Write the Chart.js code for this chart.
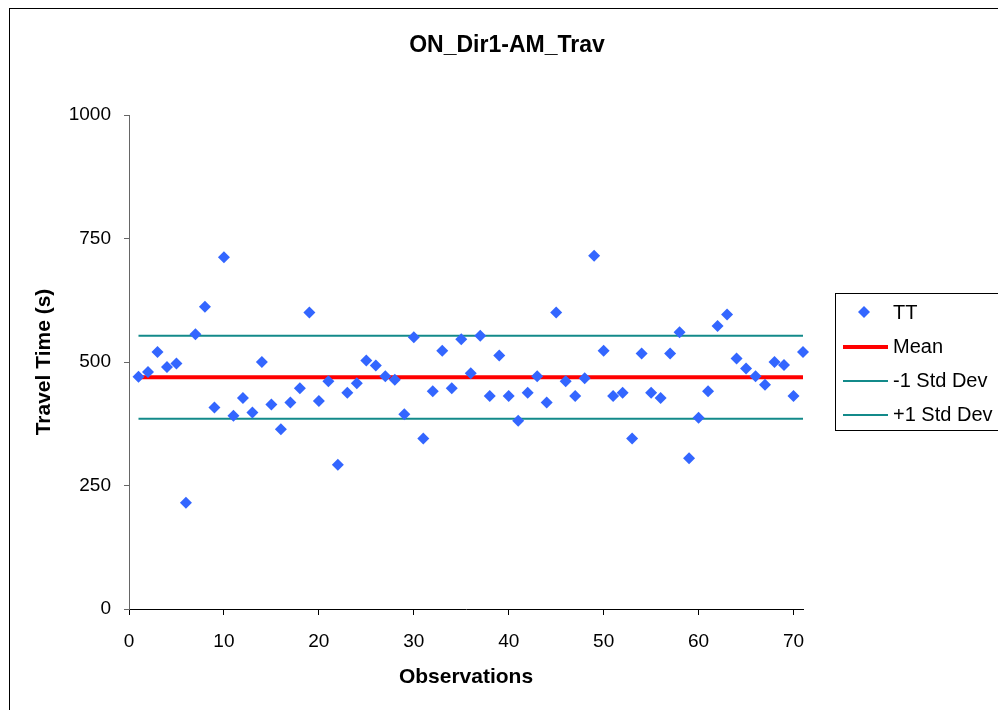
<!DOCTYPE html>
<html>
<head>
<meta charset="utf-8">
<title>ON_Dir1-AM_Trav</title>
<script src="https://cdn.jsdelivr.net/npm/chart.js@4.4.1/dist/chart.umd.min.js"></script>
<style>
  html, body { margin: 0; padding: 0; background: #fff; }
  #wrap { width: 998px; height: 710px; }
</style>
</head>
<body>
<div id="wrap"><canvas id="ttChart" width="998" height="710"></canvas></div>
<script>
// Observation numbers (x) and travel times in seconds (y)
const OBS = [
  1, 2, 3, 4, 5, 6, 7, 8, 9, 10,
  11, 12, 13, 14, 15, 16, 17, 18, 19, 20,
  21, 22, 23, 24, 25, 26, 27, 28, 29, 30,
  31, 32, 33, 34, 35, 36, 37, 38, 39, 40,
  41, 42, 43, 44, 45, 46, 47, 48, 49, 50,
  51, 52, 53, 54, 55, 56, 57, 58, 59, 60,
  61, 62, 63, 64, 65, 66, 67, 68, 69, 70, 71
];
const TT = [
  470, 480, 520, 490, 497, 215, 556, 612, 408, 712,
  391, 427, 398, 500, 414, 364, 418, 447, 600, 421,
  461, 292, 438, 457, 503, 493, 471, 464, 394, 550,
  345, 441, 523, 447, 546, 477, 553, 431, 513, 431,
  381, 438, 471, 418, 600, 461, 431, 467, 715, 523,
  431, 438, 345, 517, 438, 427, 517, 560, 305, 387,
  441, 573, 596, 507, 487, 471, 454, 500, 494, 431, 520
];

// summary lines
const MEAN = 469;
const STD_LOW = 385;
const STD_HIGH = 553;

// axis ticks
const X_TICKS = [0, 10, 20, 30, 40, 50, 60, 70];
const Y_TICKS = [0, 250, 500, 750, 1000];

const FONT = "'Liberation Sans', Arial, sans-serif";

function flatLine(value) {
  return [{ x: OBS[0], y: value }, { x: OBS[OBS.length - 1], y: value }];
}

/**
 * Background, outer frame, chart title and the boxed legend (Excel look)
 */
const excelFrame = {
  id: 'excelFrame',
  beforeDraw(chart) {
    const ctx = chart.ctx;
    ctx.save();
    ctx.fillStyle = '#fff';
    ctx.fillRect(0, 0, chart.width, chart.height);
    ctx.strokeStyle = '#000';
    ctx.lineWidth = 1;
    ctx.strokeRect(9.5, 8.5, chart.width + 20, chart.height + 20);
    ctx.restore();
  },
  afterDraw(chart) {
    const ctx = chart.ctx;
    ctx.save();

    // title
    ctx.fillStyle = '#000';
    ctx.font = 'bold 23px ' + FONT;
    ctx.textAlign = 'center';
    ctx.textBaseline = 'middle';
    ctx.fillText('ON_Dir1-AM_Trav', 507, 46);

    // legend box
    ctx.strokeStyle = '#000';
    ctx.lineWidth = 1;
    ctx.strokeRect(835.5, 293.5, 200, 137);

    ctx.font = '20px ' + FONT;
    ctx.textAlign = 'left';
    chart.data.datasets.forEach((ds, i) => {
      const y = 312 + i * 34;
      if (ds.showLine) {
        ctx.strokeStyle = ds.borderColor;
        ctx.lineWidth = ds.borderWidth;
        ctx.beginPath();
        ctx.moveTo(843, y + 1);
        ctx.lineTo(888, y + 1);
        ctx.stroke();
      } else {
        const r = ds.pointRadius;
        ctx.fillStyle = ds.backgroundColor;
        ctx.beginPath();
        ctx.moveTo(864 - r, y);
        ctx.lineTo(864, y - r);
        ctx.lineTo(864 + r, y);
        ctx.lineTo(864, y + r);
        ctx.closePath();
        ctx.fill();
      }
      ctx.fillStyle = '#000';
      ctx.fillText(ds.label, 893, y + 1);
    });
    ctx.restore();
  }
};

const ctx = document.getElementById('ttChart').getContext('2d');

new Chart(ctx, {
  type: 'scatter',
  data: {
    datasets: [
      {
        label: 'TT',
        data: OBS.map((x, i) => ({ x: x, y: TT[i] })),
        pointStyle: 'rectRot',
        pointRadius: 6,
        pointHoverRadius: 6,
        backgroundColor: '#3366FF',
        borderColor: '#3366FF',
        borderWidth: 0,
        clip: false
      },
      {
        label: 'Mean',
        data: flatLine(MEAN),
        showLine: true,
        borderColor: '#FF0000',
        borderWidth: 4,
        pointRadius: 0
      },
      {
        label: '-1 Std Dev',
        data: flatLine(STD_LOW),
        showLine: true,
        borderColor: '#138A8A',
        borderWidth: 2,
        pointRadius: 0
      },
      {
        label: '+1 Std Dev',
        data: flatLine(STD_HIGH),
        showLine: true,
        borderColor: '#138A8A',
        borderWidth: 2,
        pointRadius: 0
      }
    ]
  },
  options: {
    responsive: false,
    animation: false,
    layout: {
      padding: { top: 115, right: 195, bottom: 0, left: 0 }
    },
    plugins: {
      legend: { display: false },
      title: { display: false },
      tooltip: { enabled: false }
    },
    scales: {
      x: {
        type: 'linear',
        min: 0,
        max: 71,
        afterBuildTicks: scale => {
          scale.ticks = X_TICKS.map(v => ({ value: v }));
        },
        afterFit: scale => {
          scale.height = 101;
        },
        ticks: {
          color: '#000',
          font: { family: FONT, size: 19 },
          padding: 15,
          maxRotation: 0,
          callback: v => String(v)
        },
        grid: {
          drawOnChartArea: false,
          drawTicks: true,
          tickLength: 6,
          color: '#000'
        },
        border: { color: '#000', width: 1 },
        title: {
          display: true,
          text: 'Observations',
          color: '#000',
          font: { family: FONT, size: 21, weight: 'bold' },
          padding: { top: 0, bottom: 20 }
        }
      },
      y: {
        min: 0,
        max: 1000,
        afterBuildTicks: scale => {
          scale.ticks = Y_TICKS.map(v => ({ value: v }));
        },
        afterFit: scale => {
          scale.width = 129;
        },
        ticks: {
          color: '#000',
          font: { family: FONT, size: 19 },
          padding: 13,
          callback: v => String(v)
        },
        grid: {
          drawOnChartArea: false,
          drawTicks: true,
          tickLength: 5,
          color: '#666'
        },
        border: { color: '#666', width: 1 },
        title: {
          display: true,
          text: 'Travel Time (s)',
          color: '#000',
          font: { family: FONT, size: 21, weight: 'bold' },
          padding: { top: 32, bottom: 0 }
        }
      }
    }
  },
  plugins: [excelFrame]
});
</script>
</body>
</html>
